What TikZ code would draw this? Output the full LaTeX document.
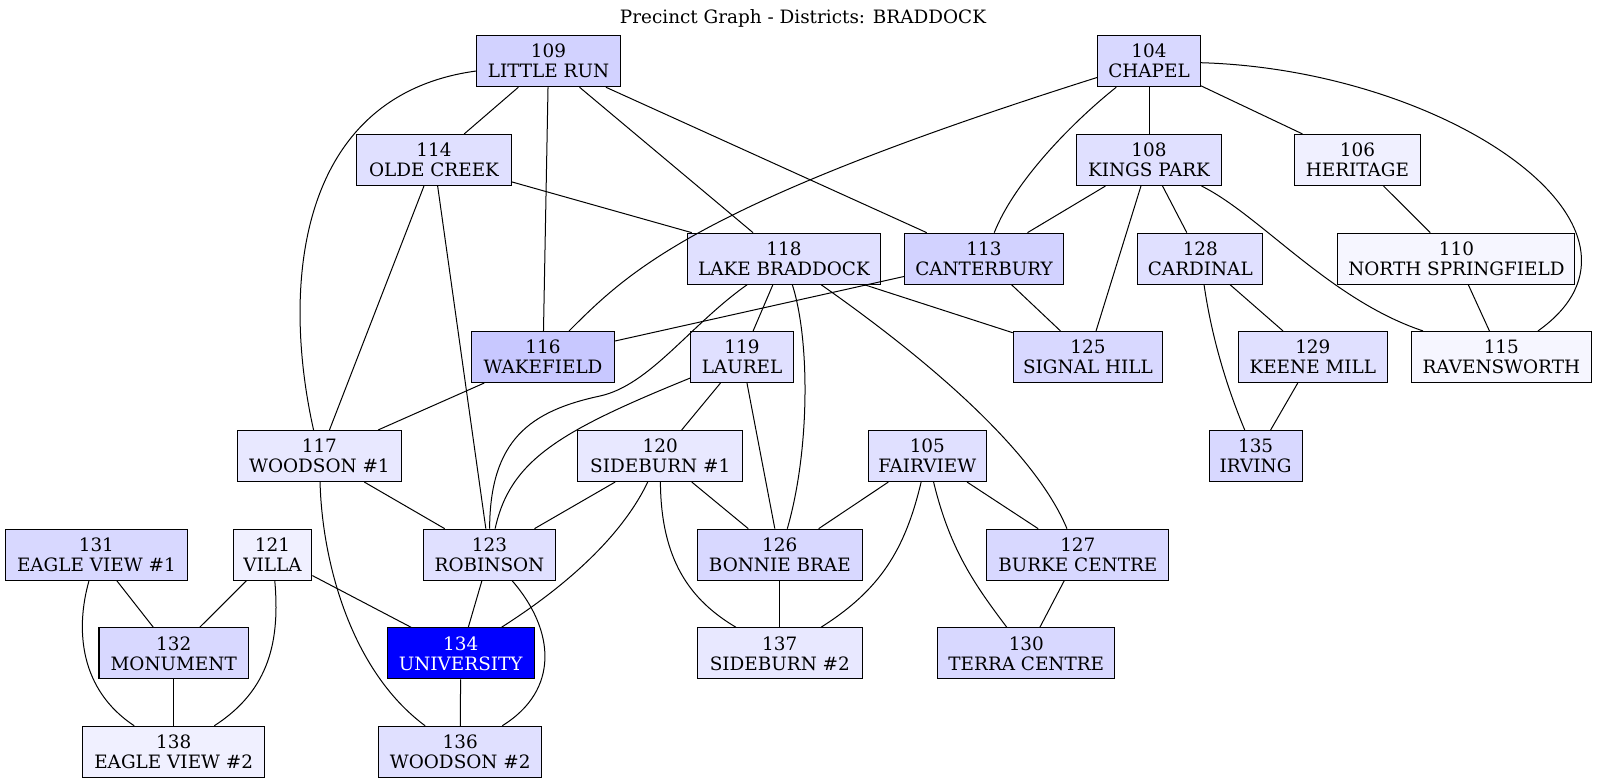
\documentclass[tikz,border=0pt]{standalone}
\usepackage{fontspec}
\setmainfont{DejaVu Serif}
\definecolor{cA}{RGB}{200,200,255}
\definecolor{cB}{RGB}{210,210,255}
\definecolor{cC}{RGB}{216,216,255}
\definecolor{cD}{RGB}{224,224,255}
\definecolor{cE}{RGB}{232,232,255}
\definecolor{cF}{RGB}{240,240,255}
\definecolor{cG}{RGB}{246,246,255}
\definecolor{cBlue}{RGB}{0,0,255}
\begin{document}
\begin{tikzpicture}[x=1pt,y=-1pt,
  box/.style={draw=black, line width=1.1pt, minimum height=51pt, inner sep=0pt,
    align=center, font=\fontsize{18.4}{20}\selectfont, fill=#1},
  edge/.style={draw=black, line width=1pt},
  titlestyle/.style={inner sep=0pt, font=\fontsize{18.4}{20}\selectfont}]
\useasboundingbox[fill=white] (0,0) rectangle (1608,783);
\node[titlestyle] (title) at (803,18) {Precinct Graph - Districts: BRADDOCK};
% row 1
\node[box=cB, minimum width=144pt] (n109) at (548.5,61.2) {109\\LITTLE RUN};
\node[box=cC, minimum width=103pt] (n104) at (1149,61.2) {104\\CHAPEL};
% row 2
\node[box=cD, minimum width=154.6pt] (n114) at (434,160) {114\\OLDE CREEK};
\node[box=cD, minimum width=145pt] (n108) at (1149,160) {108\\KINGS PARK};
\node[box=cF, minimum width=126pt] (n106) at (1357.4,160) {106\\HERITAGE};
% row 3
\node[box=cD, minimum width=193.4pt] (n118) at (784,258.7) {118\\LAKE BRADDOCK};
\node[box=cB, minimum width=158.7pt] (n113) at (984,258.7) {113\\CANTERBURY};
\node[box=cD, minimum width=125pt] (n128) at (1200.3,258.7) {128\\CARDINAL};
\node[box=cG, minimum width=237pt] (n110) at (1456.4,258.7) {110\\NORTH SPRINGFIELD};
% row 4
\node[box=cA, minimum width=143pt] (n116) at (543,357) {116\\WAKEFIELD};
\node[box=cD, minimum width=103pt] (n119) at (742,357) {119\\LAUREL};
\node[box=cC, minimum width=149.5pt] (n125) at (1088,357) {125\\SIGNAL HILL};
\node[box=cD, minimum width=149pt] (n129) at (1312.8,357) {129\\KEENE MILL};
\node[box=cG, minimum width=180pt] (n115) at (1501.3,357) {115\\RAVENSWORTH};
% row 5
\node[box=cE, minimum width=164pt] (n117) at (319.4,456) {117\\WOODSON \#1};
\node[box=cE, minimum width=165pt] (n120) at (660.2,456) {120\\SIDEBURN \#1};
\node[box=cD, minimum width=118pt] (n105) at (927.3,456) {105\\FAIRVIEW};
\node[box=cC, minimum width=93pt] (n135) at (1255.6,456) {135\\IRVING};
% row 6
\node[box=cC, minimum width=182.7pt] (n131) at (96.4,554.7) {131\\EAGLE VIEW \#1};
\node[box=cF, minimum width=78.6pt] (n121) at (272.5,554.7) {121\\VILLA};
\node[box=cD, minimum width=132pt] (n123) at (489.5,554.7) {123\\ROBINSON};
\node[box=cC, minimum width=164.8pt] (n126) at (779.8,554.7) {126\\BONNIE BRAE};
\node[box=cC, minimum width=182pt] (n127) at (1077.8,554.7) {127\\BURKE CENTRE};
% row 7
\node[box=cC, minimum width=149.5pt] (n132) at (173.7,653.3) {132\\MONUMENT};
\node[box=cBlue, minimum width=147pt, text=white] (n134) at (460.7,653.3) {134\\UNIVERSITY};
\node[box=cE, minimum width=164.8pt] (n137) at (779.8,653.3) {137\\SIDEBURN \#2};
\node[box=cC, minimum width=177pt] (n130) at (1026.3,653.3) {130\\TERRA CENTRE};
% row 8
\node[box=cF, minimum width=182pt] (n138) at (173.7,751.8) {138\\EAGLE VIEW \#2};
\node[box=cD, minimum width=163pt] (n136) at (460.2,751.8) {136\\WOODSON \#2};
% straight edges
\draw[edge] (n109) -- (n114);
\draw[edge] (n109) -- (n116);
\draw[edge] (n109) -- (n118);
\draw[edge] (n109) -- (n113);
\draw[edge] (n104) -- (n108);
\draw[edge] (n104) -- (n106);
\draw[edge] (n114) -- (n118);
\draw[edge] (n114) -- (n117);
\draw[edge] (n114) -- (n123);
\draw[edge] (n108) -- (n113);
\draw[edge] (n108) -- (n125);
\draw[edge] (n108) -- (n128);
\draw[edge] (n106) -- (n110);
\draw[edge] (n118) -- (n119);
\draw[edge] (n118) -- (n125);
\draw[edge] (n113) -- (n116);
\draw[edge] (n113) -- (n125);
\draw[edge] (n128) -- (n129);
\draw[edge] (n110) -- (n115);
\draw[edge] (n129) -- (n135);
\draw[edge] (n116) -- (n117);
\draw[edge] (n119) -- (n120);
\draw[edge] (n119) -- (n126);
\draw[edge] (n117) -- (n123);
\draw[edge] (n120) -- (n123);
\draw[edge] (n120) -- (n126);
\draw[edge] (n105) -- (n126);
\draw[edge] (n105) -- (n127);
\draw[edge] (n131) -- (n132);
\draw[edge] (n121) -- (n132);
\draw[edge] (n121) -- (n134);
\draw[edge] (n123) -- (n134);
\draw[edge] (n126) -- (n137);
\draw[edge] (n127) -- (n130);
\draw[edge] (n132) -- (n138);
\draw[edge] (n134) -- (n136);
% curved edges
\draw[edge] (n109) .. controls (300,95) and (280,280) .. (n117);
\draw[edge] (n104) .. controls (697,204) and (630,270) .. (n116);
\draw[edge] (n104) .. controls (1075,120) and (1015,180) .. (n113);
\draw[edge] (n104) .. controls (1450,70) and (1680,230) .. (n115);
\draw[edge] (n108) .. controls (1260,215) and (1330,300) .. (n115);
\draw[edge] (n118) .. controls (690,325) and (650,385) .. (600,396)
                  .. controls (530,411) and (490,440) .. (n123);
\draw[edge] (n119) .. controls (560,431) and (510,460) .. (n123);
\draw[edge] (n118) .. controls (810,340) and (810,450) .. (n126);
\draw[edge] (n118) .. controls (900,340) and (1030,440) .. (n127);
\draw[edge] (n128) .. controls (1212,340) and (1228,390) .. (n135);
\draw[edge] (n117) .. controls (322,560) and (350,670) .. (n136);
\draw[edge] (n123) .. controls (555,630) and (560,690) .. (n136);
\draw[edge] (n120) .. controls (620,540) and (560,590) .. (n134);
\draw[edge] (n120) .. controls (661,560) and (690,600) .. (n137);
\draw[edge] (n105) .. controls (905,550) and (880,590) .. (n137);
\draw[edge] (n105) .. controls (950,550) and (975,585) .. (n130);
\draw[edge] (n131) .. controls (75,630) and (80,690) .. (n138);
\draw[edge] (n121) .. controls (280,640) and (270,690) .. (n138);
\end{tikzpicture}
\end{document}
